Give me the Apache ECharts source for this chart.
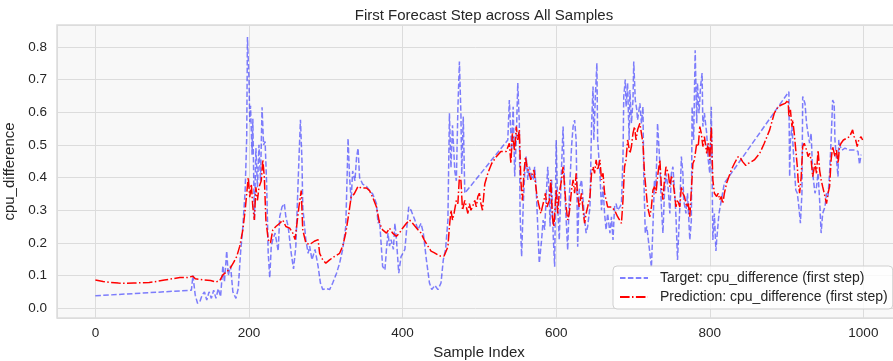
<!DOCTYPE html>
<html><head><meta charset="utf-8">
<script src="https://cdn.jsdelivr.net/npm/echarts@6/dist/echarts.min.js"></script>
<style>html,body{margin:0;padding:0;background:#fff}#c{width:893px;height:361px}</style>
</head><body><div id="c"></div>
<script>
const titleText = "First Forecast Step across All Samples";
const xName = "Sample Index";
const yName = "cpu_difference";
const targetName = "Target: cpu_difference (first step)";
const predName = "Prediction: cpu_difference (first step)";

const targetX = [0,125,127,130,133,136,139,142,145,148,151,154,157,160,163,166,168,171,173,176,179,183,186,189,192,195,197,198,200,201,202,204,205,207,209,211,213,215,217,219,221,223,225,227,229,231,234,238,240,243,246,248,251,255,258,261,265,267,269,270,274,277,279,282,286,290,293,296,301,305,309,314,318,322,326,328,329,331,333,335,338,340,342,344,348,353,357,361,366,368,370,374,377,379,381,383,385,388,390,392,395,398,403,406,408,411,416,420,424,427,431,435,438,442,446,450,453,456,459,461,463,465,468,470,472,474,476,477,479,481,483,537,539,542,544,546,548,550,552,553,555,557,559,561,563,565,568,570,572,574,576,578,581,583,585,587,589,591,592,594,596,598,600,602,604,607,609,611,613,615,617,620,622,624,626,628,630,633,635,637,639,641,644,646,648,649,651,653,654,657,659,661,663,665,667,670,672,674,676,678,680,683,685,687,688,690,691,693,695,696,698,700,701,703,705,706,709,711,713,714,716,718,720,722,724,726,728,730,732,735,737,739,741,743,746,748,750,752,754,756,758,761,763,765,766,769,771,774,776,777,779,781,783,784,786,788,790,791,793,796,798,800,802,804,806,808,809,812,815,819,903,904,905,907,910,912,914,916,918,920,921,924,926,928,930,932,934,937,939,941,943,945,947,950,952,954,956,958,960,962,963,965,967,968,970,972,976,982,989,993,995,997];
const targetY = [0.038,0.055,0.10,0.04,0.015,0.02,0.04,0.05,0.025,0.05,0.03,0.055,0.03,0.06,0.035,0.13,0.08,0.175,0.10,0.13,0.05,0.03,0.06,0.17,0.25,0.36,0.52,0.83,0.70,0.57,0.62,0.47,0.58,0.27,0.49,0.37,0.50,0.39,0.615,0.50,0.51,0.38,0.17,0.093,0.19,0.21,0.23,0.175,0.28,0.31,0.32,0.28,0.25,0.168,0.12,0.19,0.454,0.577,0.45,0.31,0.21,0.168,0.19,0.148,0.18,0.128,0.077,0.057,0.06,0.057,0.077,0.107,0.138,0.18,0.25,0.423,0.52,0.40,0.33,0.42,0.39,0.46,0.49,0.40,0.38,0.373,0.36,0.35,0.32,0.26,0.27,0.128,0.117,0.18,0.23,0.19,0.21,0.18,0.26,0.21,0.107,0.158,0.18,0.26,0.31,0.30,0.27,0.24,0.26,0.23,0.148,0.077,0.057,0.07,0.057,0.077,0.148,0.18,0.27,0.597,0.43,0.56,0.42,0.39,0.61,0.755,0.59,0.41,0.587,0.352,0.35,0.515,0.637,0.484,0.617,0.403,0.515,0.689,0.566,0.29,0.158,0.31,0.413,0.464,0.393,0.433,0.403,0.393,0.433,0.362,0.25,0.138,0.209,0.27,0.24,0.342,0.433,0.342,0.25,0.393,0.23,0.127,0.515,0.31,0.209,0.433,0.556,0.362,0.27,0.178,0.332,0.495,0.556,0.576,0.515,0.188,0.362,0.393,0.332,0.27,0.23,0.25,0.31,0.556,0.679,0.515,0.648,0.75,0.515,0.413,0.30,0.372,0.29,0.24,0.29,0.23,0.28,0.209,0.31,0.32,0.30,0.31,0.32,0.464,0.648,0.70,0.617,0.689,0.515,0.668,0.566,0.637,0.755,0.637,0.607,0.576,0.627,0.566,0.617,0.413,0.23,0.25,0.209,0.168,0.125,0.25,0.393,0.372,0.566,0.443,0.31,0.23,0.352,0.413,0.362,0.29,0.413,0.433,0.362,0.28,0.148,0.31,0.464,0.413,0.332,0.29,0.352,0.209,0.27,0.617,0.515,0.79,0.566,0.689,0.597,0.679,0.72,0.556,0.597,0.535,0.454,0.413,0.617,0.209,0.29,0.175,0.209,0.29,0.33,0.383,0.663,0.403,0.515,0.556,0.433,0.362,0.352,0.31,0.26,0.352,0.648,0.627,0.566,0.535,0.505,0.535,0.413,0.352,0.372,0.413,0.332,0.23,0.29,0.31,0.352,0.342,0.413,0.515,0.637,0.627,0.515,0.454,0.403,0.515,0.495,0.484,0.49,0.484,0.484,0.48,0.44,0.47];

const predX = [0,10,20,30,40,50,60,70,80,90,100,110,120,127,130,140,150,157,162,166,170,175,180,184,188,192,195,197,199,201,203,205,207,209,211,213,216,218,220,222,225,228,231,235,240,244,248,253,257,260,262,265,268,270,274,279,285,290,292,296,300,305,311,318,322,326,330,333,337,342,346,353,357,361,366,370,374,379,383,387,392,396,400,405,409,413,420,424,428,433,437,441,448,454,459,461,463,465,467,470,472,474,476,478,481,483,485,487,489,491,494,496,498,500,502,504,507,511,516,522,528,535,539,541,543,546,548,550,552,554,556,558,560,562,565,567,569,571,573,575,578,580,582,584,586,588,591,593,595,597,600,602,604,607,609,611,613,615,617,620,622,624,626,628,630,633,635,637,639,641,644,646,648,650,652,654,657,659,661,663,665,667,672,676,680,685,687,689,691,693,696,698,700,702,704,706,709,711,713,715,717,719,722,724,726,728,730,732,735,737,739,741,743,746,748,750,752,754,756,758,761,763,765,767,770,772,774,776,778,780,783,785,787,789,791,793,796,798,800,802,804,806,809,811,813,815,817,819,822,825,828,832,837,840,843,847,850,854,858,865,871,878,884,889,893,898,902,903,905,907,908,910,912,914,915,917,919,921,923,926,928,930,932,934,937,939,941,943,945,947,950,952,954,956,958,960,963,965,967,969,971,974,978,982,986,988,990,992,994,997,999];
const predY = [0.086,0.082,0.079,0.077,0.076,0.077,0.078,0.079,0.082,0.086,0.09,0.094,0.094,0.098,0.09,0.087,0.085,0.08,0.085,0.102,0.11,0.12,0.14,0.158,0.19,0.24,0.30,0.35,0.40,0.34,0.38,0.31,0.27,0.37,0.33,0.37,0.39,0.455,0.40,0.27,0.21,0.20,0.24,0.25,0.26,0.27,0.25,0.245,0.23,0.21,0.21,0.31,0.36,0.24,0.20,0.195,0.205,0.21,0.168,0.148,0.138,0.148,0.158,0.168,0.19,0.23,0.29,0.34,0.35,0.373,0.368,0.368,0.36,0.34,0.31,0.26,0.24,0.23,0.245,0.23,0.22,0.23,0.245,0.26,0.27,0.26,0.24,0.23,0.21,0.19,0.175,0.17,0.16,0.16,0.188,0.25,0.30,0.27,0.29,0.33,0.32,0.403,0.39,0.30,0.33,0.31,0.29,0.32,0.30,0.31,0.33,0.31,0.342,0.352,0.32,0.30,0.38,0.413,0.443,0.464,0.48,0.48,0.505,0.443,0.535,0.48,0.556,0.515,0.546,0.39,0.33,0.413,0.464,0.433,0.413,0.393,0.413,0.423,0.383,0.342,0.31,0.29,0.31,0.33,0.352,0.31,0.33,0.393,0.28,0.25,0.362,0.29,0.352,0.393,0.433,0.372,0.31,0.27,0.29,0.362,0.393,0.352,0.413,0.342,0.31,0.352,0.30,0.26,0.29,0.31,0.342,0.413,0.433,0.413,0.454,0.423,0.454,0.393,0.413,0.352,0.332,0.31,0.31,0.30,0.28,0.26,0.332,0.433,0.454,0.515,0.474,0.495,0.535,0.556,0.515,0.546,0.566,0.535,0.505,0.413,0.362,0.31,0.28,0.31,0.362,0.372,0.352,0.403,0.454,0.372,0.332,0.393,0.433,0.413,0.372,0.403,0.393,0.352,0.31,0.332,0.31,0.372,0.352,0.342,0.31,0.32,0.28,0.28,0.443,0.454,0.505,0.495,0.556,0.535,0.495,0.525,0.474,0.505,0.454,0.556,0.393,0.352,0.342,0.352,0.332,0.342,0.32,0.352,0.383,0.403,0.423,0.443,0.464,0.459,0.448,0.437,0.443,0.448,0.454,0.474,0.505,0.546,0.597,0.617,0.622,0.627,0.637,0.586,0.607,0.556,0.576,0.535,0.484,0.433,0.393,0.352,0.40,0.495,0.505,0.484,0.464,0.474,0.454,0.403,0.443,0.413,0.484,0.423,0.393,0.372,0.342,0.32,0.352,0.372,0.454,0.495,0.464,0.484,0.443,0.495,0.505,0.515,0.52,0.525,0.546,0.525,0.515,0.495,0.515,0.525,0.515];

const xTicks = [0,200,400,600,800,1000];
const yTicks = [0.0,0.1,0.2,0.3,0.4,0.5,0.6,0.7,0.8];

const zip = (xs, ys) => xs.map((x, i) => [x, ys[i]]);
const FONT = '"Liberation Sans", Arial, sans-serif';
const TXT = '#262626';

const chart = echarts.init(document.getElementById('c'), null, {renderer: 'canvas'});
chart.setOption({
  animation: false,
  backgroundColor: '#ffffff',
  title: {
    text: titleText, left: 479, top: 3, textAlign: 'center',
    textStyle: {fontFamily: FONT, fontSize: 15, fontWeight: 'normal', color: TXT}
  },
  grid: {
    left: 57, right: -8, top: 25, bottom: 43, show: true,
    containLabel: false, outerBoundsMode: 'none',
    backgroundColor: '#f8f8f8', borderColor: '#dcdcdc', borderWidth: 1.5
  },
  legend: {
    orient: 'vertical', left: 613, top: 266,
    padding: [5, 5, 5, 6], itemGap: 5, itemWidth: 28, itemHeight: 14,
    backgroundColor: 'rgba(255,255,255,0.8)', borderColor: '#d0d0d0', borderWidth: 1, borderRadius: 4,
    itemStyle: {opacity: 0},
    textStyle: {fontFamily: FONT, fontSize: 14, color: TXT, padding: [0, 0, 0, 7]},
    data: [targetName, predName]
  },
  xAxis: {
    type: 'value', min: -50, max: 1049, splitNumber: 5,
    name: xName, nameLocation: 'middle', nameGap: 26,
    nameTextStyle: {fontFamily: FONT, fontSize: 15, color: TXT},
    axisLine: {show: false}, axisTick: {show: false},
    axisLabel: {fontFamily: FONT, fontSize: 13.5, color: TXT, margin: 8, showMinLabel: false, showMaxLabel: false,
      formatter: v => xTicks.includes(v) ? String(v) : ''},
    splitLine: {show: true, lineStyle: {color: '#dcdcdc', width: 1}}
  },
  yAxis: {
    type: 'value', min: -0.03, max: 0.867, splitNumber: 9,
    name: yName, nameLocation: 'middle', nameGap: 30, nameRotate: 90,
    nameTextStyle: {fontFamily: FONT, fontSize: 15, color: TXT},
    axisLine: {show: false}, axisTick: {show: false},
    axisLabel: {fontFamily: FONT, fontSize: 13.5, color: TXT, margin: 10, showMinLabel: false, showMaxLabel: false,
      formatter: v => { const t = yTicks.find(k => Math.abs(k - v) < 1e-9); return t === undefined ? '' : t.toFixed(1); }},
    splitLine: {show: true, lineStyle: {color: '#dcdcdc', width: 1}}
  },
  series: [
    {
      name: targetName, type: 'line', data: zip(targetX, targetY),
      symbol: 'none', showSymbol: false,
      lineStyle: {color: 'rgba(0,0,255,0.5)', width: 1.5, type: [5.5, 2.4]},
      itemStyle: {color: 'rgba(0,0,255,0.5)'}
    },
    {
      name: predName, type: 'line', data: zip(predX, predY),
      symbol: 'none', showSymbol: false,
      lineStyle: {color: '#ff0000', width: 1.5, type: [9.6, 2.4, 1.5, 2.4]},
      itemStyle: {color: '#ff0000'}
    }
  ]
});
</script></body></html>
